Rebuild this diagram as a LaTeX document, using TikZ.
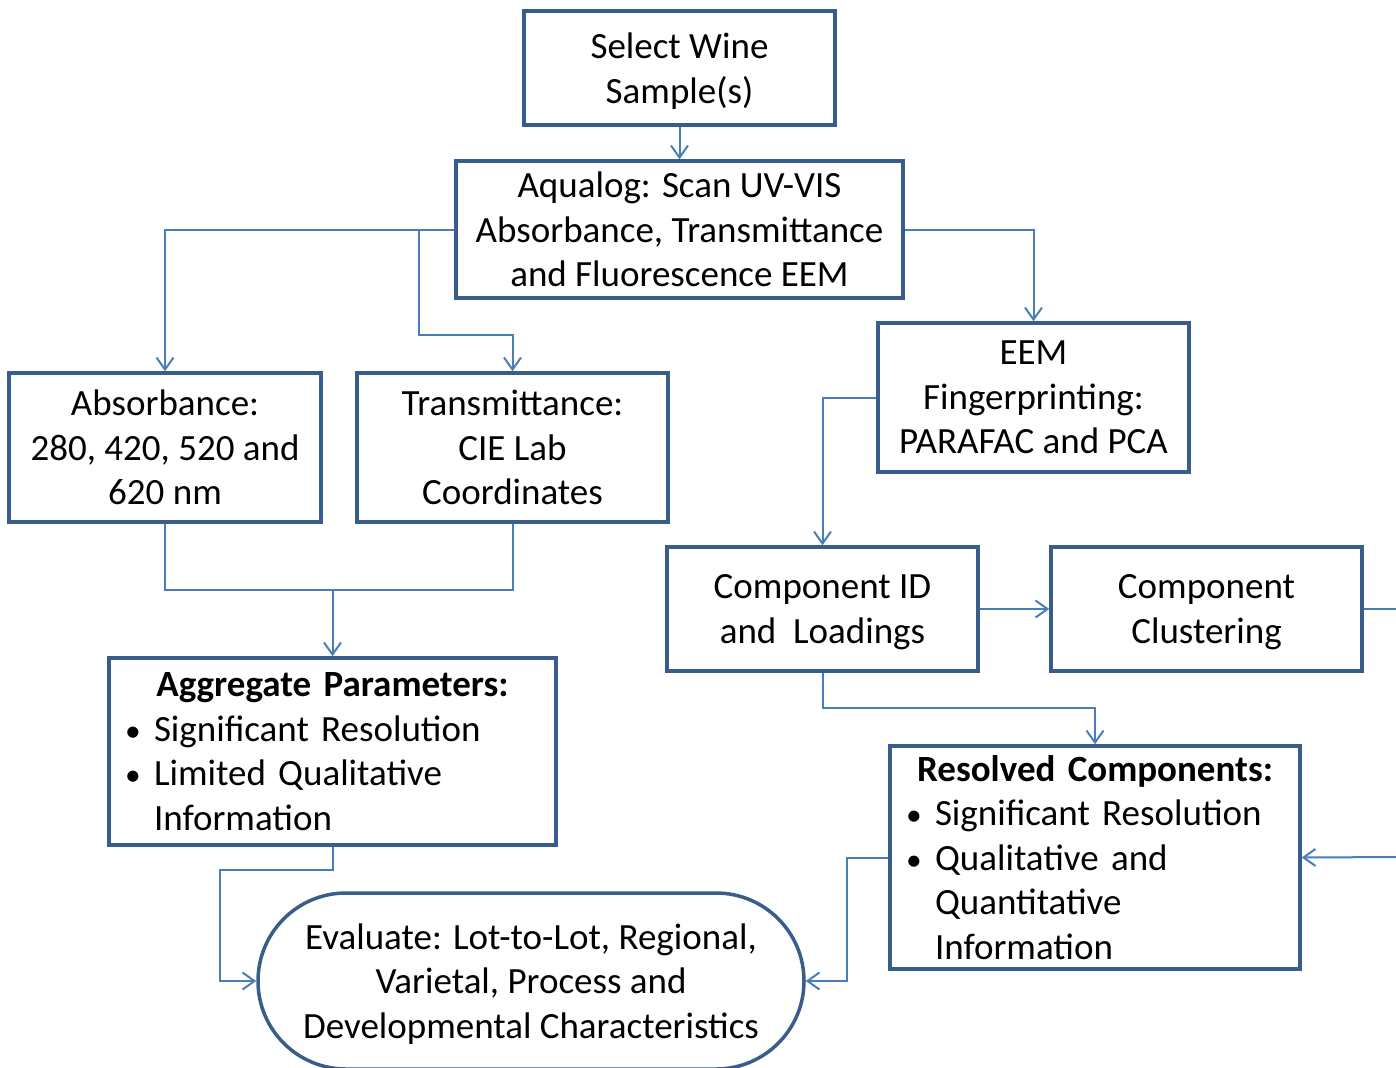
\documentclass[tikz,border=0pt]{standalone}
\usepackage{fontspec}
\setmainfont{Carlito}
\usepackage{tikz}
\usetikzlibrary{arrows.meta,positioning}

\definecolor{boxblue}{HTML}{385D8A}
\definecolor{lineblue}{HTML}{4A7EBB}

\newcommand{\bitem}[1]{\makebox[11.5pt][l]{\hspace*{-3pt}\scalebox{0.85}{\textbullet}}#1}
\newcommand{\bcont}[1]{\hspace*{11.5pt}#1}
\newcommand{\nodp}[1]{\raisebox{0pt}[\height][0pt]{#1}}

\begin{document}
\begin{tikzpicture}[
    node distance=16.25pt,
    stepbox/.style={draw=boxblue, line width=1.75pt, align=center, inner sep=2pt, minimum width=155.5pt, minimum height=74.5pt, font=\fontsize{18.5}{22.3}\selectfont, execute at begin node={\rule{0pt}{0.72em}}},
    listbox/.style={draw=boxblue, line width=1.75pt, align=left, inner xsep=11pt, inner ysep=2pt, font=\fontsize{18.5}{22.3}\selectfont},
    endbox/.style={stepbox, rounded corners=44pt, minimum width=273pt, minimum height=88pt},
    link/.style={draw=lineblue, line width=1pt},
    arrow/.style={link, -{Straight Barb[length=6pt,width=8.5pt]}}
]
\useasboundingbox (0,0) rectangle (698pt,-533.5pt);
\node[stepbox, minimum height=57pt] (sample) at (339.75pt,-34pt) {Select Wine\\\nodp{Sample(s)}};
\node[stepbox, below=of sample, minimum width=223.5pt, minimum height=68.5pt] (scan) {Aqualog: Scan UV-VIS\\Absorbance, Transmittance\\and Fluorescence EEM};
\node[stepbox, minimum width=156pt] (absorb) at (82.5pt,-223.75pt) {Absorbance:\\280, 420, 520 and\\620 nm};
\node[stepbox, right=of absorb] (trans) {Transmittance:\\CIE Lab\\Coordinates};
\node[stepbox] (eem) at (516.75pt,-198.75pt) {EEM\\Fingerprinting:\\PARAFAC and PCA};
\node[stepbox, minimum height=62pt] (cid) at (411.25pt,-304.5pt) {Component ID\\\nodp{and\ \ Loadings}};
\node[stepbox, minimum height=62pt, right=34.75pt of cid] (clust) {Component\\\nodp{Clustering}};
\node[listbox, text width=201.5pt, minimum height=93.5pt] (aggr) at (166.25pt,-375.75pt) {\makebox[201.5pt]{\textbf{Aggregate Parameters:}}\\\bitem{Significant Resolution}\\\bitem{Limited Qualitative}\\\bcont{Information}};
\node[listbox, text width=183pt, minimum height=111.5pt] (resolved) at (547.5pt,-428.75pt) {\makebox[183pt]{\textbf{Resolved Components:}}\\\bitem{Significant Resolution}\\\bitem{Qualitative and}\\\bcont{Quantitative}\\\bcont{Information}};
\node[endbox] (eval) at (265.5pt,-490.5pt) {Evaluate: Lot-to-Lot, Regional,\\Varietal, Process and\\\nodp{Developmental Characteristics}};
\coordinate (outR) at (698pt,-304.5pt);
\coordinate (inR) at (698pt,-428.5pt);
% connectors
\draw[arrow] (sample) -- (scan);
\draw[arrow] (scan.west) -| (absorb.north);
\draw[arrow] ([xshift=-17.5pt]scan.west) |- ([yshift=18pt]trans.north) -- (trans.north);
\draw[arrow] (scan.east) -| (eem.north);
\draw[arrow] (eem.west) -| (cid.north);
\draw[link] (absorb.south) |- ([yshift=33pt]aggr.north) -| (trans.south);
\draw[arrow] ([yshift=33pt]aggr.north) -- (aggr.north);
\draw[arrow] (cid) -- (clust);
\draw[link] (clust.east) -- (outR);
\draw[arrow] (inR) -- (resolved.east);
\draw[arrow] (cid.south) -- ++(0,-17.5pt) -| (resolved.north);
\draw[arrow] (aggr.south) -- ++(0,-11.5pt) -| ([xshift=-18pt]eval.west) -- (eval.west);
\draw[arrow] (resolved.west) -| ([xshift=20.5pt]eval.east) -- (eval.east);
\end{tikzpicture}
\end{document}
